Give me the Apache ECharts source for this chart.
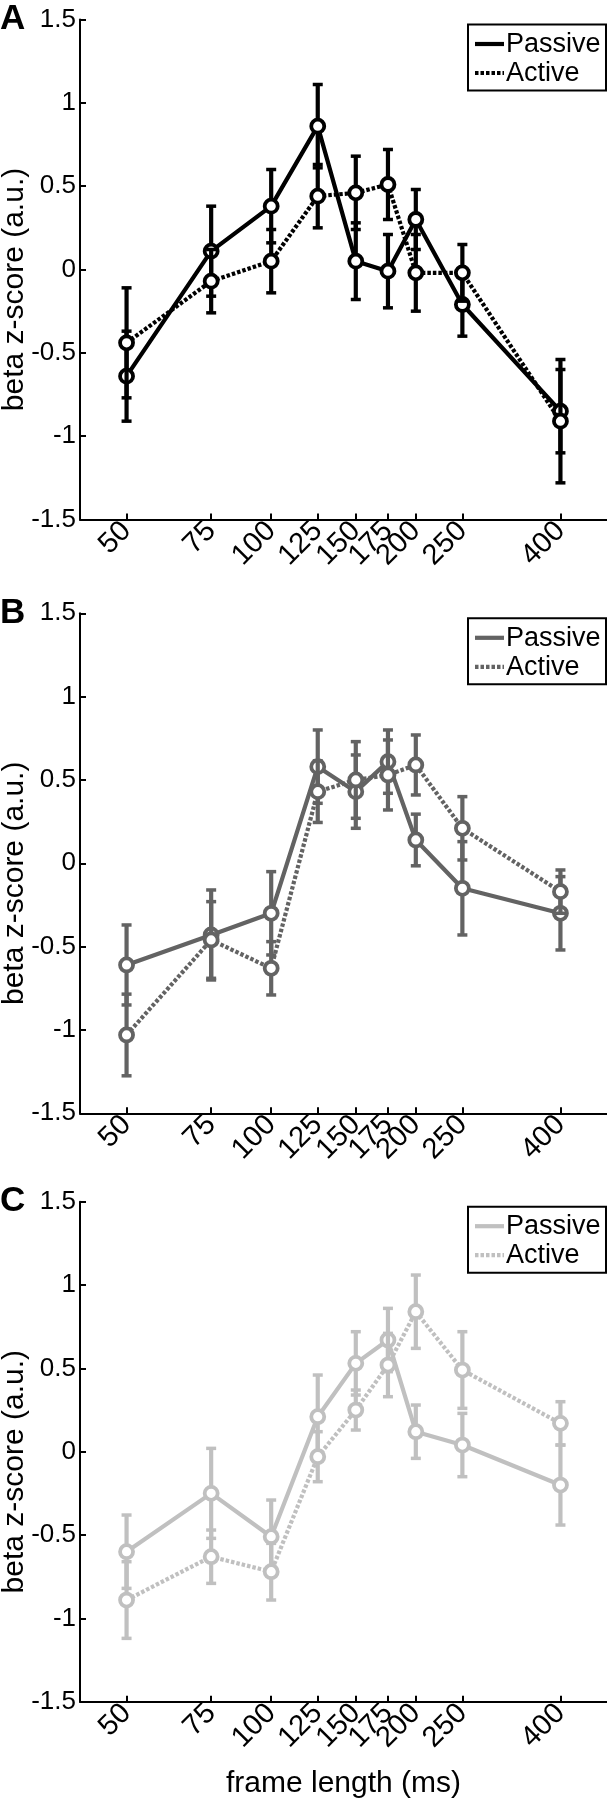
<!DOCTYPE html>
<html>
<head>
<meta charset="utf-8">
<script src="https://cdn.jsdelivr.net/npm/echarts@6/dist/echarts.min.js"></script>
<style>
html,body{margin:0;padding:0;background:#fff;}
#chart{width:607px;height:1800px;}
</style>
</head>
<body>
<div id="chart"></div>
<script>
// ---- data ----
const frameLengths = [50, 75, 100, 125, 150, 175, 200, 250, 400];
const yTicks = [-1.5, -1, -0.5, 0, 0.5, 1, 1.5];
const panelLabels = ['A', 'B', 'C'];
const seriesNames = ['Passive', 'Active'];
const yName = 'beta z-score (a.u.)';
const xName = 'frame length (ms)';

const aPassive    = [-0.64, 0.11, 0.38, 0.86, 0.05, -0.01, 0.30, -0.21, -0.85];
const aPassiveSem = [0.27, 0.27, 0.22, 0.25, 0.23, 0.22, 0.18, 0.19, 0.25];
const aActive     = [-0.44, -0.07, 0.05, 0.44, 0.46, 0.51, -0.02, -0.02, -0.91];
const aActiveSem  = [0.33, 0.19, 0.19, 0.19, 0.22, 0.21, 0.23, 0.17, 0.37];

const bPassive    = [-0.61, -0.43, -0.30, 0.58, 0.43, 0.61, 0.14, -0.15, -0.30];
const bPassiveSem = [0.24, 0.27, 0.25, 0.22, 0.22, 0.19, 0.155, 0.28, 0.22];
const bActive     = [-1.03, -0.46, -0.63, 0.43, 0.50, 0.53, 0.59, 0.21, -0.17];
const bActiveSem  = [0.245, 0.23, 0.16, 0.185, 0.23, 0.21, 0.18, 0.19, 0.13];

const cPassive    = [-0.60, -0.25, -0.51, 0.21, 0.53, 0.67, 0.12, 0.04, -0.20];
const cPassiveSem = [0.22, 0.27, 0.22, 0.25, 0.19, 0.19, 0.16, 0.19, 0.24];
const cActive     = [-0.89, -0.63, -0.72, -0.03, 0.25, 0.52, 0.84, 0.49, 0.17];
const cActiveSem  = [0.23, 0.16, 0.17, 0.15, 0.12, 0.19, 0.22, 0.23, 0.13];

// ---- styling ----
const FONT = 'Liberation Sans, Arial, Helvetica, sans-serif';
const panelColors = ['#000000', '#636363', '#c0c0c0'];
const gridTops = [19.5, 613.3, 1201.7];
const GRID_H = 500;
const GRID_LEFT = 80;
const DOT = [3.5, 2];

const panels = [
  {passive: aPassive, passiveSem: aPassiveSem, active: aActive, activeSem: aActiveSem},
  {passive: bPassive, passiveSem: bPassiveSem, active: bActive, activeSem: bActiveSem},
  {passive: cPassive, passiveSem: cPassiveSem, active: cActive, activeSem: cActiveSem}
];

const chart = echarts.init(document.getElementById('chart'), null, {renderer: 'canvas'});

const grids = [], xAxes = [], yAxes = [], series = [], graphics = [];

function errorRender(color) {
  return function (params, api) {
    const x = api.value(0), y = api.value(1), e = api.value(2);
    const lo = api.coord([x, y - e]);
    const hi = api.coord([x, y + e]);
    const cw = 5;
    const st = {stroke: color, lineWidth: 4.2, lineCap: 'butt'};
    const cap = {stroke: color, lineWidth: 3.5};
    return {
      type: 'group',
      children: [
        {type: 'line', shape: {x1: lo[0], y1: lo[1], x2: hi[0], y2: hi[1]}, style: st},
        {type: 'line', shape: {x1: lo[0] - cw, y1: lo[1], x2: lo[0] + cw, y2: lo[1]}, style: cap},
        {type: 'line', shape: {x1: hi[0] - cw, y1: hi[1], x2: hi[0] + cw, y2: hi[1]}, style: cap}
      ]
    };
  };
}

panels.forEach((p, i) => {
  const color = panelColors[i];
  const top = gridTops[i];
  grids.push({left: GRID_LEFT, right: 0, top: top, height: GRID_H,
    containLabel: false, outerBoundsMode: 'none'});
  xAxes.push({
    type: 'log', logBase: 10, gridIndex: i, min: 40, max: 500,
    name: i === 2 ? xName : '',
    nameLocation: 'middle', nameGap: 67,
    nameTextStyle: {fontFamily: FONT, fontSize: 30, color: '#000'},
    axisLine: {show: true, onZero: false, lineStyle: {color: '#000', width: 2}},
    axisTick: {show: true, inside: true, length: 6, customValues: frameLengths, lineStyle: {color: '#000', width: 2}},
    axisLabel: {show: true, rotate: 45, margin: 7, customValues: frameLengths,
      fontFamily: FONT, fontSize: 29, color: '#000'},
    splitLine: {show: false},
    minorTick: {show: false}
  });
  yAxes.push({
    type: 'value', gridIndex: i, min: -1.5, max: 1.5, interval: 0.5,
    axisLine: {show: true, lineStyle: {color: '#000', width: 2}},
    axisTick: {show: true, inside: true, length: 6, lineStyle: {color: '#000', width: 2}},
    axisLabel: {show: true, margin: 4, fontFamily: FONT, fontSize: 26, color: '#000',
      formatter: v => String(v)},
    splitLine: {show: false}
  });

  const conds = [
    {name: seriesNames[0], vals: p.passive, sem: p.passiveSem, dashed: false},
    {name: seriesNames[1], vals: p.active, sem: p.activeSem, dashed: true}
  ];
  conds.forEach((c, k) => {
    series.push({
      type: 'custom', name: c.name + '_err', xAxisIndex: i, yAxisIndex: i,
      z: 2 + k * 2, silent: true,
      renderItem: errorRender(color),
      data: frameLengths.map((f, j) => [f, c.vals[j], c.sem[j]])
    });
    series.push({
      type: 'line', name: c.name, xAxisIndex: i, yAxisIndex: i,
      z: 3 + k * 2,
      data: frameLengths.map((f, j) => [f, c.vals[j]]),
      symbol: 'circle', symbolSize: 13, showAllSymbol: true,
      itemStyle: {color: '#fff', borderColor: color, borderWidth: 3.8},
      lineStyle: {color: color, width: 4.2, type: c.dashed ? DOT : 'solid', cap: 'butt'},
      emphasis: {disabled: true},
      animation: false
    });
  });

  // y-axis title (rotated), centred slightly below the middle as in the original
  graphics.push({
    type: 'text', x: 15, y: top + 270, rotation: Math.PI / 2, z: 100,
    style: {text: yName, fontFamily: FONT, fontSize: 30, fill: '#000',
      align: 'center', verticalAlign: 'middle'}
  });

  // legend box
  const lx = 467, ly = top + 4;
  graphics.push({
    type: 'group', left: lx, top: ly, z: 100,
    children: [
      {type: 'rect', shape: {x: 0, y: 0, width: 138, height: 66},
        style: {fill: '#fff', stroke: '#000', lineWidth: 2}},
      {type: 'line', shape: {x1: 7, y1: 19.5, x2: 36, y2: 19.5},
        style: {stroke: color, lineWidth: 4.2}},
      {type: 'line', shape: {x1: 7, y1: 48.5, x2: 36, y2: 48.5},
        style: {stroke: color, lineWidth: 4.2, lineDash: DOT}},
      {type: 'text', x: 38, y: 20, style: {text: seriesNames[0], fontFamily: FONT, fontSize: 27,
        fill: '#000', verticalAlign: 'middle', align: 'left'}},
      {type: 'text', x: 38, y: 49, style: {text: seriesNames[1], fontFamily: FONT, fontSize: 27,
        fill: '#000', verticalAlign: 'middle', align: 'left'}}
    ]
  });
  // panel letter
  graphics.push({
    type: 'text', x: 0, y: top, z: 100,
    style: {text: panelLabels[i], fontFamily: FONT, fontSize: 35, fontWeight: 'bold',
      fill: '#000', verticalAlign: 'middle', align: 'left'}
  });
});

chart.setOption({
  animation: false,
  backgroundColor: '#fff',
  grid: grids,
  xAxis: xAxes,
  yAxis: yAxes,
  series: series,
  graphic: graphics
});
</script>
</body>
</html>
